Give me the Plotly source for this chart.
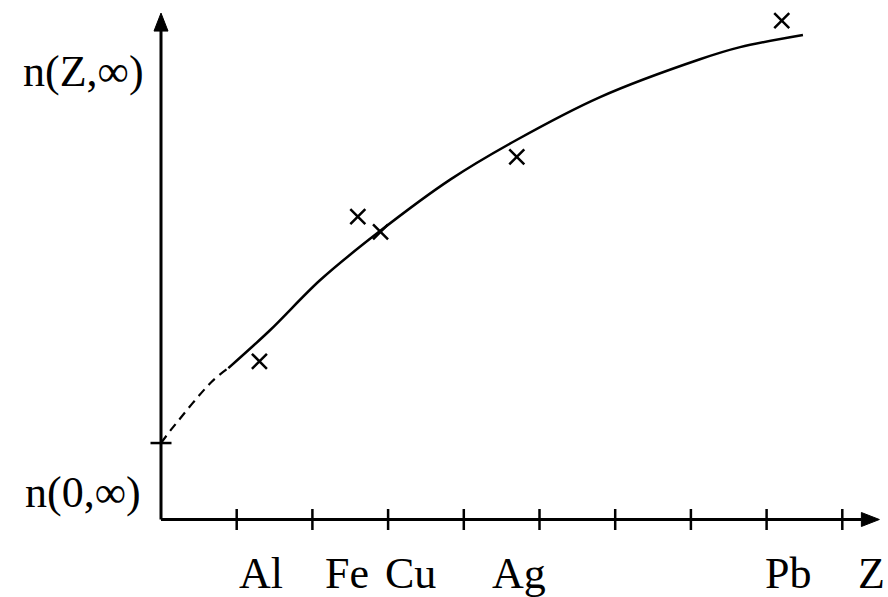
import plotly.graph_objects as go

# ---- data (Z units, arbitrary n units) ----
elements = ["Al", "Fe", "Cu", "Ag", "Pb"]
element_Z = [13, 26, 29, 47, 82]
measured_n = [20.9, 40.0, 38.0, 47.9, 65.9]

fit_dash_Z = [0, 1.6, 6.7, 8.9]
fit_dash_n = [10.1, 12.2, 18.2, 20.0]
fit_solid_Z = [8.9, 14.4, 21.0, 28.8, 38.2, 46.9, 58.0, 71.2, 76.5, 84.8]
fit_solid_n = [20.0, 25.0, 31.6, 38.0, 44.9, 50.1, 55.8, 60.8, 62.4, 64.0]

tick_Z = [10, 20, 30, 40, 50, 60, 70, 80, 90]
n0_value = 10.1
label_n0 = "n(0,∞)"
label_nZ = "n(Z,∞)"
label_Z = "Z"

# ---- layout geometry ----
W, H = 888, 597
S = 7.57            # px per unit
OX, OY = 161, 519.5  # origin in px
x_range = [-OX / S, (W - OX) / S]
y_range = [(OY - H) / S, OY / S]
x_axis_end = 94.9
y_axis_end = 66.9
arrow_len = 18 / S
arrow_half = 7 / S

FONT = "Liberation Serif"
FS = 44
BLACK = "#000000"

fig = go.Figure()

# axes lines
fig.add_trace(go.Scatter(x=[0, 0], y=[0, y_axis_end - arrow_len], mode="lines",
                         line=dict(color=BLACK, width=3), hoverinfo="skip"))
fig.add_trace(go.Scatter(x=[0, x_axis_end - arrow_len], y=[0, 0], mode="lines",
                         line=dict(color=BLACK, width=3), hoverinfo="skip"))
# arrowheads
fig.add_trace(go.Scatter(x=[-arrow_half, arrow_half, 0, -arrow_half],
                         y=[y_axis_end - arrow_len, y_axis_end - arrow_len, y_axis_end, y_axis_end - arrow_len],
                         mode="lines", fill="toself", fillcolor=BLACK,
                         line=dict(color=BLACK, width=1), hoverinfo="skip"))
fig.add_trace(go.Scatter(x=[x_axis_end - arrow_len, x_axis_end - arrow_len, x_axis_end, x_axis_end - arrow_len],
                         y=[-arrow_half, arrow_half, 0, -arrow_half],
                         mode="lines", fill="toself", fillcolor=BLACK,
                         line=dict(color=BLACK, width=1), hoverinfo="skip"))
# ticks
fig.add_trace(go.Scatter(x=tick_Z, y=[0] * len(tick_Z), mode="markers",
                         marker=dict(symbol="line-ns", size=15, line=dict(color=BLACK, width=2.5)),
                         hoverinfo="skip"))
fig.add_trace(go.Scatter(x=[0], y=[n0_value], mode="markers",
                         marker=dict(symbol="line-ew", size=15, line=dict(color=BLACK, width=2.5)),
                         hoverinfo="skip"))

# fit curve
fig.add_trace(go.Scatter(x=fit_dash_Z, y=fit_dash_n, mode="lines", line_shape="spline",
                         line=dict(color=BLACK, width=2.2, dash="9px,6px"), hoverinfo="skip"))
fig.add_trace(go.Scatter(x=fit_solid_Z, y=fit_solid_n, mode="lines",
                         line=dict(color=BLACK, width=2.5, shape="spline", smoothing=0.9),
                         hoverinfo="skip"))

# measured points
fig.add_trace(go.Scatter(x=element_Z, y=measured_n, mode="markers",
                         marker=dict(symbol="x-thin", size=15, line=dict(color=BLACK, width=2.5)),
                         text=elements, hoverinfo="text"))

# labels
label_shift = {"Al": 2, "Fe": -11, "Cu": 30, "Ag": 2, "Pb": 6}
for name, z in zip(elements, element_Z):
    fig.add_annotation(x=z, y=0, text=name, showarrow=False, xshift=label_shift[name],
                       yshift=-54, font=dict(family=FONT, size=FS, color=BLACK),
                       xanchor="center", yanchor="middle")
fig.add_annotation(x=x_axis_end, y=0, text=label_Z, showarrow=False, xshift=-8, yshift=-54,
                   font=dict(family=FONT, size=FS, color=BLACK), xanchor="center", yanchor="middle")
fig.add_annotation(x=0, y=0, text=label_n0, showarrow=False, xshift=-78, yshift=27,
                   font=dict(family=FONT, size=FS, color=BLACK), xanchor="center", yanchor="middle")
fig.add_annotation(x=0, y=y_axis_end, text=label_nZ, showarrow=False, xshift=-78, yshift=-58,
                   font=dict(family=FONT, size=FS, color=BLACK), xanchor="center", yanchor="middle")

fig.update_layout(
    width=W, height=H,
    margin=dict(l=0, r=0, t=0, b=0),
    paper_bgcolor="white", plot_bgcolor="white",
    showlegend=False,
    font=dict(family=FONT),
    xaxis=dict(range=x_range, visible=False, fixedrange=True),
    yaxis=dict(range=y_range, visible=False, fixedrange=True),
)

fig.write_html("out.html", config={"displayModeBar": False},
               post_script="document.body.style.margin='0';document.body.style.overflow='hidden';")
